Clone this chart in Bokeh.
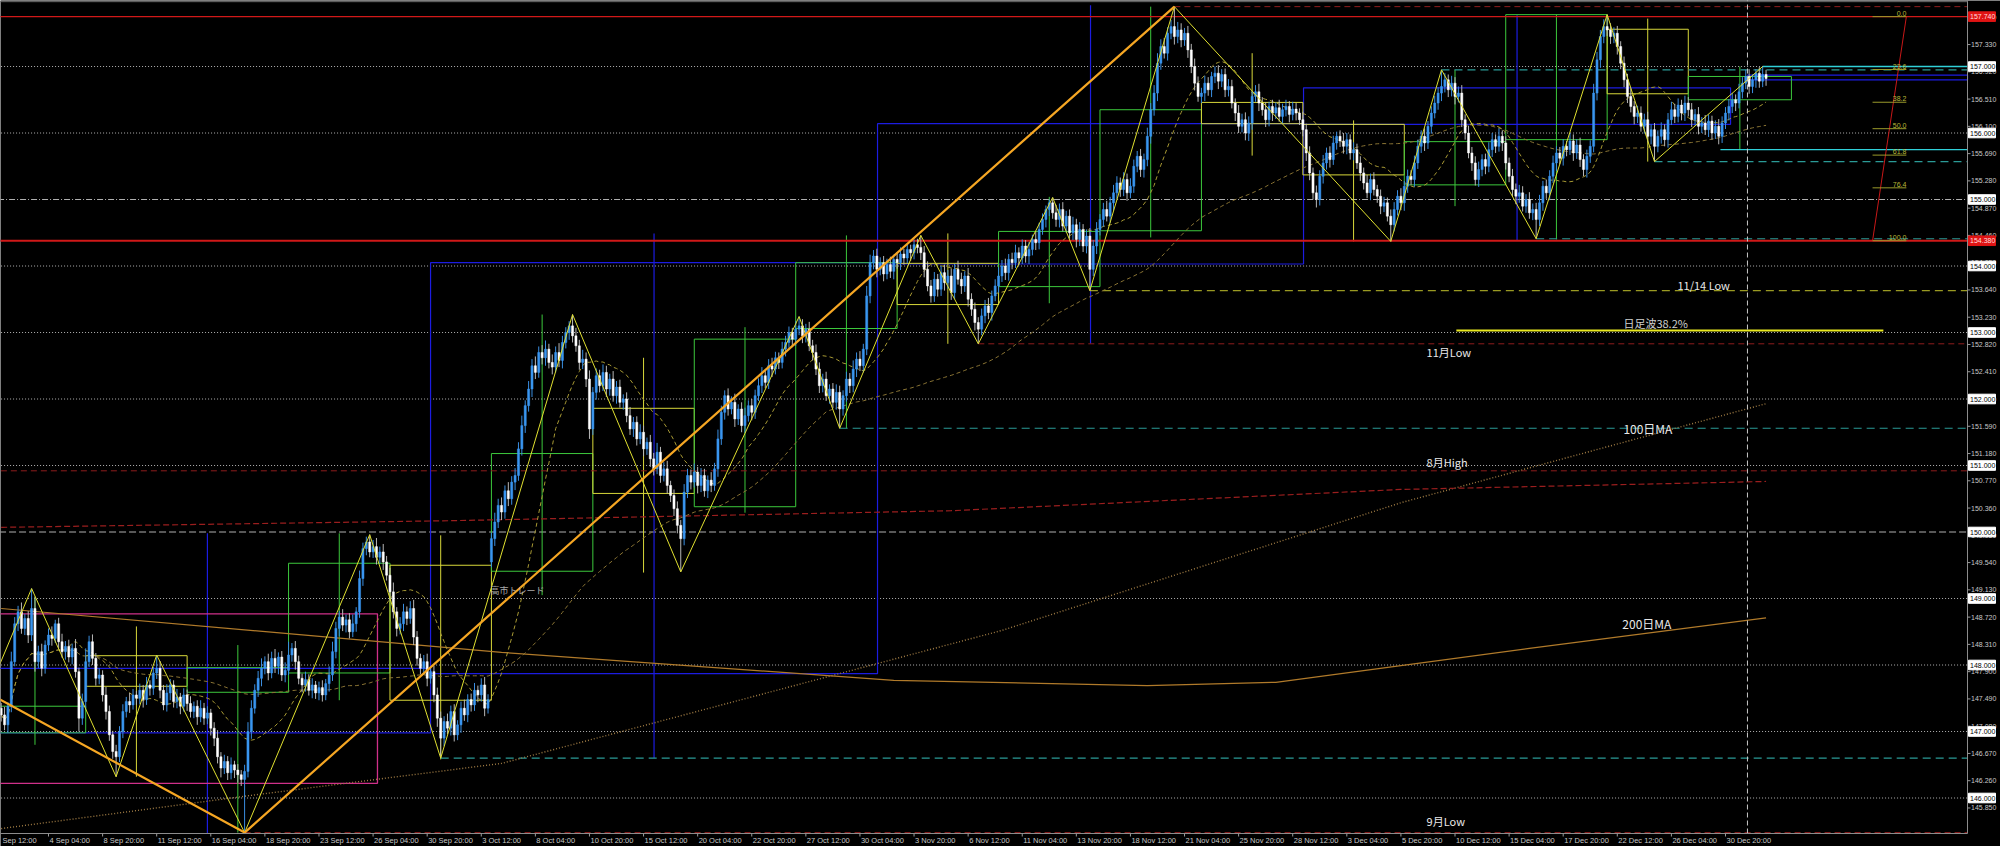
import numpy as np
import pandas as pd
from bokeh.plotting import figure
from bokeh.models import ColumnDataSource, Range1d
from bokeh.embed import file_html
from bokeh.resources import INLINE
from bokeh.core.properties import value

# ---------------- data (4H bars, index 0 = 4 Sep 04:00) ----------------
FIRST_BAR = -14
FIRST_OPEN = 147.35
CLOSE = [
 147.25,147.10,147.38,148.05,148.62,148.80,148.55,148.70,148.45,148.85,
 148.05,148.20,147.95,148.30,148.45,148.40,148.62,148.35,148.20,148.28,
 148.12,148.25,147.90,147.20,147.45,148.05,148.35,148.10,147.80,147.85,
 147.55,147.30,146.95,146.70,146.62,147.00,147.30,147.45,147.40,147.55,
 147.50,147.62,147.48,147.70,147.65,147.88,147.95,147.62,147.40,147.58,
 147.70,147.45,147.52,147.38,147.55,147.42,147.30,147.38,147.22,147.35,
 147.20,147.28,147.05,146.90,146.62,146.45,146.55,146.38,146.50,146.42,
 146.35,146.28,146.40,147.00,147.35,147.62,147.80,147.95,148.05,147.88,
 148.10,147.98,148.12,147.85,147.92,148.15,148.25,148.05,147.80,147.70,
 147.78,147.62,147.70,147.58,147.66,147.55,147.72,147.85,148.20,148.55,
 148.72,148.60,148.68,148.50,148.62,148.80,149.30,149.75,149.85,149.70,
 149.78,149.62,149.70,149.55,149.35,149.10,148.80,148.55,148.62,148.80,
 148.70,148.85,148.42,148.10,147.95,148.05,147.80,147.90,147.55,147.20,
 146.90,147.15,147.05,147.30,146.95,147.10,147.35,147.25,147.48,147.40,
 147.62,147.55,147.70,147.35,147.48,149.90,150.15,150.40,150.30,150.62,
 150.50,150.75,150.85,151.25,151.60,151.90,152.15,152.50,152.40,152.70,
 152.62,152.75,152.55,152.48,152.70,152.58,152.85,153.00,153.10,152.95,
 152.80,152.55,152.60,152.30,151.55,152.10,152.35,152.20,152.40,152.15,
 152.30,152.05,152.18,151.95,152.00,151.75,151.55,151.65,151.40,151.50,
 151.25,151.35,151.10,150.95,151.20,150.85,150.95,150.70,150.55,150.35,
 150.10,149.90,150.60,150.85,150.75,150.90,150.70,150.85,150.62,150.78,
 150.70,150.95,151.40,151.80,152.05,151.85,151.95,151.70,151.85,151.60,
 151.75,151.90,151.80,152.05,152.20,152.35,152.25,152.50,152.45,152.62,
 152.55,152.75,152.85,153.00,152.90,153.05,153.10,152.95,153.05,152.80,
 152.70,152.45,152.20,152.30,152.05,152.15,151.95,152.10,151.85,152.05,
 152.30,152.20,152.45,152.60,152.50,152.75,153.55,154.05,154.15,153.95,
 154.05,153.88,154.02,153.92,154.10,154.05,154.18,154.12,154.25,154.20,
 154.32,154.28,154.20,153.95,153.70,153.55,153.80,153.65,153.90,153.75,
 153.85,153.60,153.95,153.80,153.70,153.85,153.50,153.35,153.15,153.05,
 153.25,153.40,153.30,153.55,153.70,153.85,154.00,153.90,154.10,154.05,
 154.20,154.12,154.30,154.15,154.25,154.40,154.35,154.55,154.70,154.85,
 154.95,154.80,154.70,154.85,154.60,154.75,154.50,154.62,154.40,154.55,
 154.30,154.45,153.95,154.30,154.55,154.70,154.85,154.75,154.95,155.10,
 155.25,155.15,155.30,155.10,155.20,155.50,155.65,155.45,155.60,155.95,
 156.35,156.60,157.05,157.30,157.20,157.50,157.60,157.45,157.55,157.40,
 157.50,157.25,157.00,156.75,156.55,156.60,156.75,156.65,156.85,156.90,
 156.78,156.88,156.65,156.70,156.45,156.30,156.10,156.20,156.00,156.15,
 156.55,156.62,156.45,156.35,156.20,156.40,156.30,156.38,156.25,156.35,
 156.40,156.28,156.36,156.30,156.20,156.05,155.70,155.40,155.10,155.00,
 155.35,155.55,155.70,155.60,155.85,155.95,155.88,155.80,155.90,155.70,
 155.75,155.55,155.40,155.25,155.10,155.30,155.15,155.05,154.90,154.95,
 154.75,154.62,154.85,155.05,154.95,155.20,155.35,155.30,155.55,155.80,
 155.95,155.85,156.10,156.30,156.45,156.60,156.70,156.80,156.65,156.75,
 156.55,156.60,156.20,156.00,155.70,155.55,155.30,155.45,155.60,155.50,
 155.75,155.90,155.80,155.95,155.85,155.55,155.35,155.15,155.05,155.10,
 154.90,155.00,154.80,154.85,154.70,154.95,155.20,155.10,155.35,155.55,
 155.70,155.62,155.80,155.75,155.88,155.70,155.82,155.60,155.45,155.65,
 155.80,156.60,157.10,157.45,157.60,157.55,157.45,157.50,157.30,157.05,
 156.80,156.55,156.40,156.25,156.30,156.10,156.20,155.95,156.05,155.80,
 155.95,156.05,155.90,156.20,156.35,156.25,156.42,156.30,156.45,156.35,
 156.20,156.28,156.10,156.15,156.05,156.18,156.00,156.10,155.95,156.15,
 156.30,156.40,156.50,156.45,156.62,156.75,156.85,156.70,156.80,156.90,
 156.78,156.88,156.82]
# wick lengths in 0.01 yen
UPPER_WICK = [
 8,12,6,15,10,9,14,7,11,30, 18,9,12,7,10,13,6,9,12,8, 10,7,14,6,12,20,9,11,8,10,
 7,12,9,6,10,8,11,7,13,9, 6,10,8,12,7,9,20,11,8,13, 9,7,12,6,10,8,11,7,9,12,
 8,10,6,9,12,7,10,8,11,6, 9,7,10,14,12,9,11,15,8,12, 10,14,7,9,12,20,8,11,9,7,
 12,8,10,6,9,11,7,13,15,10, 9,12,8,10,14,7,12,9,8,11, 10,13,8,12,9,11,14,7,10,12,
 8,11,13,9,7,10,12,8,9,11, 10,8,12,9,11,7,10,13,8,9, 11,7,10,12,8,9,14,10,12,8,
 13,9,11,10,15,8,12,10,14,9, 11,13,8,12,9,14,10,8,7,17, 12,9,14,10,13,8,11,9,12,10,
 8,12,9,11,7,10,13,8,9,12, 10,7,11,9,14,8,10,12,7,9, 11,8,12,10,9,13,8,11,10,7,
 12,9,14,10,8,11,9,13,7,10, 12,8,10,9,11,13,7,10,12,9, 8,11,10,9,7,12,14,10,8,11,
 9,12,10,8,11,7,9,12,10,8, 11,9,13,10,12,8,15,12,9,11, 8,10,9,12,7,11,10,8,9,7,
 8,9,18,10,12,9,11,8,10,12, 9,11,8,13,10,7,12,9,10,8, 11,9,12,8,10,13,9,11,8,10,
 12,8,10,9,11,7,12,10,9,6, 5,8,12,9,11,8,10,12,9,11, 8,10,12,9,11,8,10,13,9,12,
 10,8,11,9,12,10,8,11,9,13, 10,12,15,11,13,9,10,30,12,10, 8,11,9,12,10,8,11,9,7,10,
 12,8,9,11,10,7,12,9,11,10, 8,10,12,9,11,7,10,8,12,9, 10,8,11,9,7,12,9,10,8,11,
 9,12,8,10,11,7,9,12,10,8, 11,9,10,8,12,9,11,7,10,9, 8,10,11,9,12,8,10,9,11,10,
 9,12,8,10,11,9,25,10,8,11, 9,10,12,8,11,9,10,12,8,9, 11,10,8,12,9,10,8,11,9,12,
 10,8,11,9,10,12,8,10,9,11, 10,9,11,8,12,10,9,11,8,10, 9,14,12,10,11,18,10,9,11,8,
 10,9,12,8,11,10,9,12,8,10, 9,11,8,10,12,9,10,8,11,9, 10,8,11,9,12,10,8,9,11,10,
 9,11,10,8,12,9,10,11,8,6, 9,12,7]
LOWER_WICK = [
 10,8,12,9,7,11,8,10,12,9, 15,10,12,8,9,11,7,10,9,12, 8,11,9,20,10,12,8,10,11,9,
 10,12,9,11,30,8,10,9,12,7, 10,9,12,8,11,10,9,12,8,10, 11,9,10,12,8,11,9,10,12,8,
 10,9,11,12,10,14,9,11,10,12, 12,10,80,9,11,8,10,12,9,11, 8,10,12,9,11,7,10,12,9,11,
 10,8,12,9,11,10,8,12,9,10, 12,9,11,10,8,12,9,11,10,8, 9,11,10,12,8,13,10,12,9,11,
 10,8,12,11,9,10,12,8,11,13, 30,12,9,11,10,8,12,9,11,10, 9,11,10,12,8,8,11,9,12,10,
 11,9,12,8,10,11,9,12,10,8, 10,12,9,11,8,10,12,9,11,10, 9,11,10,12,15,9,11,10,8,12,
 10,9,12,8,11,10,9,12,10,8, 11,9,12,10,8,11,9,12,10,11, 12,50,10,9,11,8,12,10,9,11,
 10,8,12,9,11,10,8,12,9,10, 11,9,12,10,8,11,9,10,12,8, 10,9,11,8,12,10,9,11,10,8,
 12,9,11,10,8,12,9,11,29,10, 9,11,10,12,8,10,9,11,10,12, 9,11,8,10,12,9,11,10,8,12,
 10,9,11,12,8,10,9,11,10,12, 9,11,10,8,12,9,11,10,12,22, 9,11,10,12,8,10,9,11,12,10,
 8,11,9,10,12,9,11,10,8,12, 10,9,11,12,8,10,9,11,12,10, 9,11,32,10,12,9,11,8,10,12,
 9,11,10,12,8,10,9,11,12,10, 11,9,12,10,8,11,9,12,10,11, 9,12,10,11,8,10,12,9,11,10,
 12,9,11,10,8,12,10,9,11,12, 10,8,12,9,11,10,12,9,8,11, 10,12,9,11,8,10,12,11,10,12,
 9,11,10,12,8,10,9,11,12,10, 11,9,12,10,8,11,9,10,12,9, 8,25,10,9,11,12,10,8,11,9,
 10,12,9,11,8,10,12,9,11,10, 12,9,11,10,8,12,9,11,10,12, 9,11,10,8,12,10,9,11,12,10,
 8,10,9,11,29,10,12,9,11,10, 12,9,11,10,8,12,9,11,10,12, 10,9,11,12,10,9,11,10,12,9,
 11,10,9,12,10,8,11,9,12,23, 9,11,10,12,8,10,9,11,12,10, 11,9,12,10,8,11,10,9,12,10,
 9,11,10,12,8,10,9,11,10,12, 10,9,11]
OPEN_GAPS = {131: 149.55}

# time scale: the first label is only partly visible ("2 Sep 12:00" cut by the left edge)
TIME_TICK_BARS = [-16, 0, 16, 32, 48, 64, 80, 96, 112, 128, 144, 160, 176, 192, 208, 224, 240,
                  256, 272, 288, 304, 320, 336, 352, 368, 384, 400, 416, 432, 448, 464, 480, 496]
TIME_TICK_LABELS = ["Sep 12:00", "4 Sep 04:00", "8 Sep 20:00", "11 Sep 12:00", "16 Sep 04:00",
                    "18 Sep 20:00", "23 Sep 12:00", "26 Sep 04:00", "30 Sep 20:00", "3 Oct 12:00",
                    "8 Oct 04:00", "10 Oct 20:00", "15 Oct 12:00", "20 Oct 04:00", "22 Oct 20:00",
                    "27 Oct 12:00", "30 Oct 04:00", "3 Nov 20:00", "6 Nov 12:00", "11 Nov 04:00",
                    "13 Nov 20:00", "18 Nov 12:00", "21 Nov 04:00", "25 Nov 20:00", "28 Nov 12:00",
                    "3 Dec 04:00", "5 Dec 20:00", "10 Dec 12:00", "15 Dec 04:00", "17 Dec 20:00",
                    "22 Dec 12:00", "26 Dec 04:00", "30 Dec 20:00"]
PRICE_TICKS = [145.85, 146.26, 146.67, 147.08, 147.49, 147.90, 148.31, 148.72, 149.13, 149.54,
               149.95, 150.36, 150.77, 151.18, 151.59, 152.00, 152.41, 152.82, 153.23, 153.64,
               154.05, 154.46, 154.87, 155.28, 155.69, 156.10, 156.51, 156.92, 157.33, 157.74]
PRICE_TICK_LABELS = ["%.3f" % v for v in PRICE_TICKS]

ROUND_LEVELS = [146, 147, 148, 149, 150, 151, 152, 153, 154, 155, 156, 157]
ROUND_TAGS = ["146.000", "147.000", "148.000", "149.000", "150.000", "151.000",
              "152.000", "153.000", "154.000", "155.000", "156.000", "157.000"]
RED_SOLID_LEVELS = [157.75, 154.38]
RED_SOLID_TAGS = ["157.740", "154.380"]
RED_DASH_LEVELS = [157.90, 152.83, 150.92, 145.48]
RED_DASH_FROM = [333, 275, -20, 58]
TEAL_LEVELS = [156.95, 155.57, 154.41, 151.56, 146.60]
TEAL_FROM = [412, 475, 440, 234, 116]
OLIVE_LEVELS = [153.63]
OLIVE_FROM = [308]
CYAN_LEVELS = [155.75, 157.00]
CYAN_FROM = [494.5, 507]
D38_LEVEL, D38_FROM, D38_TO = 153.03, 416.4, 542.7

WEEK_LEFT = [-19, 11, 41, 71, 101, 131, 161, 191, 221, 251, 281, 311, 341, 371, 401, 431, 461, 485]
WEEK_RIGHT = [11, 41, 71, 101, 131, 161, 191, 221, 251, 281, 311, 341, 371, 401, 431, 461, 485, 515.5]
WEEK_OPEN = [146.98, 148.14, 147.59, 147.88, 149.50, 149.41, 151.86, 150.38, 153.06, 154.04, 153.69,
             154.53, 156.46, 156.13, 155.22, 155.90, 157.56, 156.50]
WEEK_CLOSE = [147.38, 147.68, 147.96, 149.53, 147.47, 151.18, 150.58, 152.90, 154.05, 153.42, 154.52,
              156.35, 156.14, 155.37, 155.87, 157.78, 156.59, 156.85]
WEEK_HIGH = [149.02, 148.58, 148.30, 149.98, 149.95, 153.27, 152.62, 153.08, 154.46, 154.49, 155.04,
             157.90, 157.20, 156.19, 156.95, 157.78, 157.72, 157.00]
WEEK_LOW = [146.80, 146.32, 145.48, 147.47, 146.58, 149.05, 149.39, 150.29, 151.56, 152.83, 153.44,
            154.43, 155.66, 154.37, 154.90, 154.40, 155.57, 155.75]

MONTH_LEFT = [-19, 113, 245.2, 371.2, 502.5]
MONTH_RIGHT = [113, 245.2, 371.2, 497.5, 567.6]
MONTH_OPEN = [146.98, 147.87, 154.03, 156.13, 156.87]
MONTH_CLOSE = [147.95, 154.05, 156.14, 156.68, 156.80]
MONTH_HIGH = [149.98, 154.49, 157.92, 157.77, 156.87]
MONTH_LOW = [145.47, 146.60, 152.83, 154.38, 156.80]

BOX_Q_LEFT, BOX_Q_RIGHT, BOX_Q_TOP, BOX_Q_BOTTOM = -19, 97.3, 148.77, 146.22

YZ_IDX = [-24, -5, 20, 32, 58, 95, 116, 155, 187, 222, 234, 258, 275, 297, 308, 333, 397, 412, 440, 461, 475, 507]
YZ_PRICE = [146.85, 149.15, 146.32, 148.15, 145.48, 149.96, 146.60, 153.27, 149.40, 153.24, 151.56,
            154.46, 152.83, 155.03, 153.63, 157.90, 154.37, 156.95, 154.41, 157.78, 155.57, 157.00]
OZ_IDX = [-40, 58, 333]
OZ_PRICE = [148.19, 145.48, 157.90]

D100_IDX = [-14, 60, 134, 282, 400, 508]
D100_VAL = [145.54, 146.04, 146.52, 148.52, 150.44, 151.93]
D200_IDX = [-14, 134, 250, 325, 363, 438, 508]
D200_VAL = [148.85, 148.19, 147.77, 147.69, 147.74, 148.25, 148.71]
DRED_IDX = [-14, 119, 267, 400, 508]
DRED_VAL = [150.07, 150.17, 150.32, 150.64, 150.76]

FIB_RATIOS = [0.0, 23.6, 38.2, 50.0, 61.8, 76.4, 100.0]
FIB_TOP, FIB_BOTTOM = 157.75, 154.38
FIB_X0, FIB_X1 = 539.5, 549.5

NOTE_TEXT = ["11/14 Low", "日足波38.2%", "11月Low", "100日MA", "8月High", "200日MA", "9月Low", "高市トレード"]
NOTE_X = [481.8, 465.8, 407.6, 465.8, 407.6, 465.5, 407.6, 130.7]
NOTE_Y = [153.72, 153.14, 152.70, 151.56, 151.06, 148.62, 145.66, 149.12]
NOTE_SIZE = ["11px", "11px", "11px", "12px", "11px", "12px", "11px", "9px"]
NOTE_COLOR = ["#e8e8e8", "#d0d0d0", "#e8e8e8", "#e8e8e8", "#e8e8e8", "#e8e8e8", "#e8e8e8", "#a8a8a8"]
YEAR_SEP = 502.5

# ---------------- figure (whole canvas is the plotting frame) ----------------
W, H = 2000, 846
X_START, X_END = -14.197, 577.34      # 3.381 px per bar
XB = 567.58                           # chart border / price scale edge
Y_START, Y_END = 145.2707, 157.9925   # 66.5 px per yen
Y_AXIS = 145.466                      # bottom border of the chart
Y_TOPLINE = 157.975
Y_DATE = 145.36
XPX = W / (X_END - X_START)
PX = H / (Y_END - Y_START)
CJK = "Noto Sans CJK JP"
AXF = "Liberation Sans"

p = figure(width=W, height=H, x_range=Range1d(X_START, X_END), y_range=Range1d(Y_START, Y_END),
           x_axis_location=None, y_axis_location=None, toolbar_location=None, output_backend="svg",
           min_border=0, min_border_left=0, min_border_right=0, min_border_top=0, min_border_bottom=0,
           background_fill_color="black", border_fill_color="black")
p.outline_line_color = None
p.xgrid.visible = False
p.ygrid.visible = False

XL = X_START - 30


def hseg(y, x0, x1, color, dash="solid", width=1.0):
    p.segment(x0=[x0], y0=[y], x1=[x1], y1=[y], line_color=color, line_dash=dash, line_width=width)


# round number levels
for lv in ROUND_LEVELS:
    dash = "1 2"
    if lv == 150:
        dash = "7 3"
    elif lv == 155:
        dash = "6 2 1 2"
    hseg(lv, XL, XB, "#b0b0b0", dash, 1)

# monthly boxes (blue)
p.quad(left=MONTH_LEFT, right=MONTH_RIGHT,
       top=[max(o, c) for o, c in zip(MONTH_OPEN, MONTH_CLOSE)],
       bottom=[min(o, c) for o, c in zip(MONTH_OPEN, MONTH_CLOSE)],
       fill_alpha=0, line_color="#1c1ce0", line_width=1.2)
mmid = [(a + b) / 2 for a, b in zip(MONTH_LEFT[:4], MONTH_RIGHT[:4])]
p.segment(x0=mmid, y0=MONTH_LOW[:4], x1=mmid, y1=MONTH_HIGH[:4], line_color="#1c1ce0", line_width=1.2)

# magenta box
p.quad(left=[BOX_Q_LEFT], right=[BOX_Q_RIGHT], top=[BOX_Q_TOP], bottom=[BOX_Q_BOTTOM],
       fill_alpha=0, line_color="#d0308a", line_width=1.3)

# weekly boxes
wcol = ["#3cc83c" if c >= o else "#d8d83a" for o, c in zip(WEEK_OPEN, WEEK_CLOSE)]
p.quad(left=WEEK_LEFT, right=WEEK_RIGHT,
       top=[max(o, c) for o, c in zip(WEEK_OPEN, WEEK_CLOSE)],
       bottom=[min(o, c) for o, c in zip(WEEK_OPEN, WEEK_CLOSE)],
       fill_alpha=0, line_color=wcol, line_width=1)
wmid = [(a + b) / 2 for a, b in zip(WEEK_LEFT, WEEK_RIGHT)]
p.segment(x0=wmid, y0=WEEK_LOW, x1=wmid, y1=WEEK_HIGH, line_color=wcol, line_width=1)

# other horizontal lines
for lv, w in zip(RED_SOLID_LEVELS, [1.3, 2.0]):
    hseg(lv, XL, XB, "#d01818", "solid", w)
for lv, x0 in zip(RED_DASH_LEVELS, RED_DASH_FROM):
    hseg(lv, x0, XB, "#8e1c1c", "6 4", 1)
for lv, x0 in zip(TEAL_LEVELS, TEAL_FROM):
    hseg(lv, x0, XB, "#2a9a96", "8 5", 1.2)
for lv, x0 in zip(OLIVE_LEVELS, OLIVE_FROM):
    hseg(lv, x0, XB, "#9a9a22", "8 5", 1.2)
for lv, x0 in zip(CYAN_LEVELS, CYAN_FROM):
    hseg(lv, x0, XB, "#30d0d8", "solid", 1.3)
hseg(D38_LEVEL, D38_FROM, D38_TO, "#e8e820", "solid", 2)

# moving averages
p.line(D200_IDX, D200_VAL, line_color="#b07a2a", line_width=1.2)
p.line(D100_IDX, D100_VAL, line_color="#a07c44", line_width=1.4, line_dash="1 2")
p.line(DRED_IDX, DRED_VAL, line_color="#9a1e1e", line_width=1.2, line_dash="6 3")

n = min(len(CLOSE), len(UPPER_WICK), len(LOWER_WICK))
idx = np.arange(FIRST_BAR, FIRST_BAR + n)
close = np.array(CLOSE[:n])
opn = np.empty(n)
opn[0] = FIRST_OPEN
opn[1:] = close[:-1]
for b, o in OPEN_GAPS.items():
    opn[b - FIRST_BAR] = o
hi = np.maximum(opn, close) + np.array(UPPER_WICK[:n]) / 100.0
lo = np.minimum(opn, close) - np.array(LOWER_WICK[:n]) / 100.0

cs = pd.Series(close)
sma20 = cs.rolling(20, min_periods=1).mean().values
sma100 = cs.rolling(100, min_periods=1).mean().values
p.line(idx, sma100, line_color="#8a7434", line_width=1, line_dash="4 3")
p.line(idx, sma20, line_color="#a89a34", line_width=1, line_dash="4 3")

bull = close >= opn
src = ColumnDataSource(dict(
    x=idx, hi=hi, lo=lo,
    top=np.maximum(opn, close), bot=np.minimum(opn, close),
    fill=["#3a96f0" if b else "#ffffff" for b in bull],
    wick=["#3a8ee0" if b else "#b8b8b8" for b in bull]))
p.segment(x0="x", y0="lo", x1="x", y1="hi", source=src, line_color="wick", line_width=1)
p.vbar(x="x", width=0.62, top="top", bottom="bot", source=src, fill_color="fill",
       line_color="fill", line_width=0.5)

# zigzags
p.line(YZ_IDX, YZ_PRICE, line_color="#e0e030", line_width=1)
p.line(OZ_IDX, OZ_PRICE, line_color="#f5a623", line_width=2.2)

# fibonacci
p.line([FIB_X0, FIB_X1], [FIB_BOTTOM, FIB_TOP], line_color="#c81818", line_width=1)
fib_y = [FIB_TOP - r / 100.0 * (FIB_TOP - FIB_BOTTOM) for r in FIB_RATIOS]
p.segment(x0=[FIB_X0] * len(fib_y), y0=fib_y, x1=[FIB_X1] * len(fib_y), y1=fib_y,
          line_color="#9a9a2a", line_width=1)
p.text(x=[FIB_X1] * len(fib_y), y=fib_y, text=["%.1f" % r for r in FIB_RATIOS],
       text_font=value(AXF), text_font_size="7px", text_color="#b8b838",
       text_align="right", text_baseline="bottom", y_offset=-1)

# year separator
p.segment(x0=[YEAR_SEP], y0=[Y_AXIS], x1=[YEAR_SEP], y1=[Y_END + 1],
          line_color="#c8c8c8", line_dash="5 3", line_width=1)

# notes
for t, x, y, s, c in zip(NOTE_TEXT, NOTE_X, NOTE_Y, NOTE_SIZE, NOTE_COLOR):
    p.text(x=[x], y=[y], text=[t], text_font=value(CJK), text_font_size=s,
           text_color=c, text_align="left", text_baseline="middle")

# ---- chart border, price scale and time scale ----
p.segment(x0=[XB], y0=[Y_AXIS], x1=[XB], y1=[Y_END + 1], line_color="#8c8c8c", line_width=1)
p.segment(x0=[XL], y0=[Y_AXIS], x1=[XB], y1=[Y_AXIS], line_color="#8c8c8c", line_width=1)
p.segment(x0=[XL], y0=[Y_TOPLINE], x1=[XB], y1=[Y_TOPLINE], line_color="#6c6c6c", line_width=1)

p.segment(x0=[XB] * len(PRICE_TICKS), y0=PRICE_TICKS, x1=[XB + 3 / XPX] * len(PRICE_TICKS),
          y1=PRICE_TICKS, line_color="#9a9a9a", line_width=1)
p.text(x=[XB + 3.5 / XPX] * len(PRICE_TICKS), y=PRICE_TICKS, text=PRICE_TICK_LABELS,
       text_font=value(AXF), text_font_size="7px", text_color="#c8c8c8",
       text_align="left", text_baseline="middle")

p.segment(x0=TIME_TICK_BARS[1:], y0=[Y_AXIS] * (len(TIME_TICK_BARS) - 1), x1=TIME_TICK_BARS[1:],
          y1=[Y_AXIS - 3 / PX] * (len(TIME_TICK_BARS) - 1), line_color="#9a9a9a", line_width=1)
time_label_x = [max(b, X_START + 1 / XPX) for b in TIME_TICK_BARS]
p.text(x=time_label_x, y=[Y_DATE] * len(TIME_TICK_BARS), text=TIME_TICK_LABELS,
       text_font=value(AXF), text_font_size="7.5px", text_color="#c8c8c8",
       text_align="left", text_baseline="middle", x_offset=1)

# price tags
TAG_L, TAG_R, TAG_H = XB + 1 / XPX, XB + 28 / XPX, 4.8 / PX
p.quad(left=[TAG_L] * len(ROUND_LEVELS), right=[TAG_R] * len(ROUND_LEVELS),
       top=[v + TAG_H for v in ROUND_LEVELS], bottom=[v - TAG_H for v in ROUND_LEVELS],
       fill_color="#ffffff", line_color="#ffffff")
p.text(x=[XB + 2.5 / XPX] * len(ROUND_LEVELS), y=ROUND_LEVELS, text=ROUND_TAGS,
       text_font=value(AXF), text_font_size="7px", text_color="#000000",
       text_align="left", text_baseline="middle")
p.quad(left=[TAG_L] * 2, right=[TAG_R] * 2,
       top=[v + TAG_H for v in RED_SOLID_LEVELS], bottom=[v - TAG_H for v in RED_SOLID_LEVELS],
       fill_color="#e01414", line_color="#e01414")
p.text(x=[XB + 2.5 / XPX] * 2, y=RED_SOLID_LEVELS, text=RED_SOLID_TAGS,
       text_font=value(AXF), text_font_size="7px", text_color="#ffdede",
       text_align="left", text_baseline="middle")

open("out.html", "w").write(file_html(p, INLINE))
